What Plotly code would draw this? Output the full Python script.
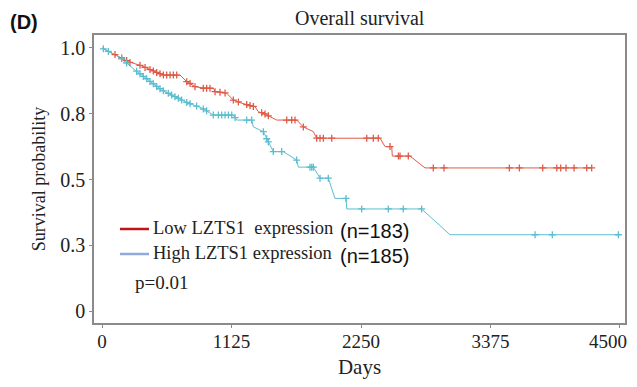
import plotly.graph_objects as go

# ---- data ----
low_days = [0, 113, 229, 345, 460, 533, 678, 736, 808, 895, 967, 982, 1083, 1141, 1214, 1329,
            1358, 1431, 1518, 1691, 1749, 1836, 1865, 2415, 2459, 2517, 2522, 2676, 2806, 4254]
low_surv = [1.0, 0.975, 0.948, 0.932, 0.91, 0.897, 0.897, 0.872, 0.853, 0.847, 0.847, 0.834,
            0.828, 0.802, 0.79, 0.777, 0.758, 0.745, 0.726, 0.726, 0.70, 0.682, 0.657, 0.657,
            0.625, 0.625, 0.589, 0.589, 0.544, 0.544]

high_days = [0, 156, 287, 402, 519, 634, 750, 866, 967, 1141, 1170, 1300, 1315, 1402, 1431,
             1488, 1575, 1691, 1706, 1836, 1894, 1966, 2024, 2120, 2126, 2777, 3023, 4486]
high_surv = [1.0, 0.964, 0.916, 0.878, 0.84, 0.815, 0.79, 0.772, 0.745, 0.745, 0.726, 0.726,
             0.70, 0.682, 0.655, 0.606, 0.606, 0.574, 0.547, 0.547, 0.505, 0.505, 0.428,
             0.428, 0.388, 0.388, 0.29, 0.29]

low_cens_days = [113, 171, 214, 243, 330, 374, 417, 446, 475, 504, 533, 562, 591, 620, 649,
                 736, 765, 808, 880, 909, 938, 982, 1025, 1069, 1141, 1185, 1257, 1286, 1315,
                 1387, 1416, 1445, 1605, 1648, 1677, 1749, 1865, 1894, 1923, 1996, 2300, 2357,
                 2400, 2502, 2575, 2589, 2661, 2878, 2971, 3539, 3626, 3829, 3951, 3985, 4031,
                 4101, 4211, 4254]
low_cens_surv = [0.975, 0.962, 0.952, 0.945, 0.934, 0.926, 0.918, 0.913, 0.907, 0.902, 0.897,
                 0.897, 0.897, 0.897, 0.897, 0.872, 0.865, 0.853, 0.847, 0.847, 0.847, 0.834,
                 0.832, 0.829, 0.802, 0.795, 0.785, 0.781, 0.778, 0.754, 0.749, 0.742, 0.726,
                 0.726, 0.726, 0.70, 0.657, 0.657, 0.657, 0.657, 0.657, 0.657, 0.657, 0.625,
                 0.589, 0.589, 0.589, 0.544, 0.544, 0.544, 0.544, 0.544, 0.544, 0.544, 0.544,
                 0.544, 0.544, 0.544]

high_cens_days = [12, 55, 171, 214, 301, 330, 359, 388, 417, 446, 475, 504, 533, 576, 605, 634,
                  663, 692, 736, 765, 822, 880, 909, 967, 1011, 1040, 1069, 1098, 1127, 1156,
                  1257, 1300, 1402, 1431, 1445, 1488, 1561, 1691, 1807, 1822, 1836, 1894, 1966,
                  2120, 2256, 2487, 2617, 2777, 3762, 3912, 4486]
high_cens_surv = [0.997, 0.987, 0.959, 0.943, 0.912, 0.902, 0.892, 0.883, 0.873, 0.864, 0.854,
                  0.845, 0.837, 0.828, 0.821, 0.815, 0.809, 0.802, 0.793, 0.788, 0.779, 0.768,
                  0.761, 0.745, 0.745, 0.745, 0.745, 0.745, 0.745, 0.735, 0.726, 0.726, 0.682,
                  0.655, 0.643, 0.606, 0.606, 0.574, 0.547, 0.547, 0.547, 0.505, 0.505, 0.428,
                  0.388, 0.388, 0.388, 0.388, 0.29, 0.29, 0.29]

x_ticks = [0, 1125, 2250, 3375, 4500]
x_ticktext = ["0", "1125", "2250", "3375", ""]   # last label placed right-aligned below
x_last_label = "4500"
y_tickvals = [0, 0.25, 0.5, 0.75, 1.0]
y_ticktext = ["0", "0.3", "0.5", "0.8", "1.0"]

RED = "#E05A48"
BLUE = "#5BBED0"
SERIF = "Liberation Serif, Times New Roman, serif"
SANS = "Liberation Sans, Arial, sans-serif"

fig = go.Figure()
fig.add_trace(go.Scatter(x=low_days, y=low_surv, mode="lines",
                         line=dict(color=RED, width=1), showlegend=False))
fig.add_trace(go.Scatter(x=high_days, y=high_surv, mode="lines",
                         line=dict(color=BLUE, width=1), showlegend=False))
fig.add_trace(go.Scatter(x=low_cens_days, y=low_cens_surv, mode="markers",
                         marker=dict(symbol="cross-thin", size=5, color=RED,
                                     line=dict(color=RED, width=1.3)), showlegend=False))
fig.add_trace(go.Scatter(x=high_cens_days, y=high_cens_surv, mode="markers",
                         marker=dict(symbol="cross-thin", size=5, color=BLUE,
                                     line=dict(color=BLUE, width=1.3)), showlegend=False))

fig.update_layout(
    width=637, height=387,
    margin=dict(l=94, r=12, t=35, b=64),
    paper_bgcolor="white", plot_bgcolor="white",
    xaxis=dict(range=[-69.5, 4543.5], tickvals=x_ticks, ticktext=x_ticktext,
               showgrid=False, zeroline=False, automargin=False,
               showline=True, mirror=True, linecolor="#8a8a8a", linewidth=1.5,
               ticks="outside", ticklen=3, tickcolor="#8a8a8a", ticklabelstandoff=-3,
               tickfont=dict(family=SERIF, size=19, color="#222"),
               title=dict(text="Days", font=dict(family=SERIF, size=21, color="#222"), standoff=9)),
    yaxis=dict(range=[-0.0456, 1.0494], tickvals=y_tickvals, ticktext=y_ticktext,
               showgrid=False, zeroline=False, automargin=False,
               showline=True, mirror=True, linecolor="#8a8a8a", linewidth=1.5,
               ticks="outside", ticklen=3, tickcolor="#8a8a8a",
               tickfont=dict(family=SERIF, size=20, color="#222"),
               title=dict(text="Survival probability", font=dict(family=SERIF, size=18, color="#222"),
                          standoff=10)),
)

# last x tick label, right-aligned so it stays inside the figure
fig.add_annotation(text=x_last_label, xref="x", yref="paper", x=x_ticks[-1], y=0,
                   xanchor="right", yanchor="middle", xshift=9, yshift=-18, showarrow=False,
                   font=dict(family=SERIF, size=19, color="#222"))

# title and panel label
fig.add_annotation(text="Overall survival", xref="paper", yref="paper", x=0.5, y=1.0,
                   yshift=4, xanchor="center", yanchor="bottom", showarrow=False,
                   font=dict(family=SERIF, size=20, color="#222"))
fig.add_annotation(text="<b>(D)</b>", xref="paper", yref="paper", x=(8 - 94) / 531, y=1.0,
                   yshift=0, xanchor="left", yanchor="bottom", showarrow=False,
                   font=dict(family=SANS, size=20, color="#111"))

# legend drawn inside plot
def px_x(p):
    return (p - 94) / 531

def px_y(p):
    return (323 - p) / 288

fig.add_shape(type="line", xref="paper", yref="paper", x0=px_x(120), x1=px_x(149),
              y0=px_y(229), y1=px_y(229), line=dict(color="#C0141B", width=2.5))
fig.add_shape(type="line", xref="paper", yref="paper", x0=px_x(120), x1=px_x(149),
              y0=px_y(254), y1=px_y(254), line=dict(color="#8FAADC", width=2.5))
fig.add_annotation(text="Low LZTS1  expression", xref="paper", yref="paper", x=px_x(151),
                   y=px_y(228), xanchor="left", yanchor="middle", showarrow=False,
                   font=dict(family=SERIF, size=18.5, color="#222"))
fig.add_annotation(text="High LZTS1 expression", xref="paper", yref="paper", x=px_x(151),
                   y=px_y(253), xanchor="left", yanchor="middle", showarrow=False,
                   font=dict(family=SERIF, size=18.5, color="#222"))
fig.add_annotation(text="(n=183)", xref="paper", yref="paper", x=px_x(338),
                   y=px_y(231), xanchor="left", yanchor="middle", showarrow=False,
                   font=dict(family=SANS, size=20, color="#111"))
fig.add_annotation(text="(n=185)", xref="paper", yref="paper", x=px_x(338),
                   y=px_y(256), xanchor="left", yanchor="middle", showarrow=False,
                   font=dict(family=SANS, size=20, color="#111"))
fig.add_annotation(text="p=0.01", xref="paper", yref="paper", x=px_x(133),
                   y=px_y(282), xanchor="left", yanchor="middle", showarrow=False,
                   font=dict(family=SERIF, size=19, color="#222"))

fig.write_html("out.html", config={"displayModeBar": False},
               post_script="document.body.style.margin='0';")
